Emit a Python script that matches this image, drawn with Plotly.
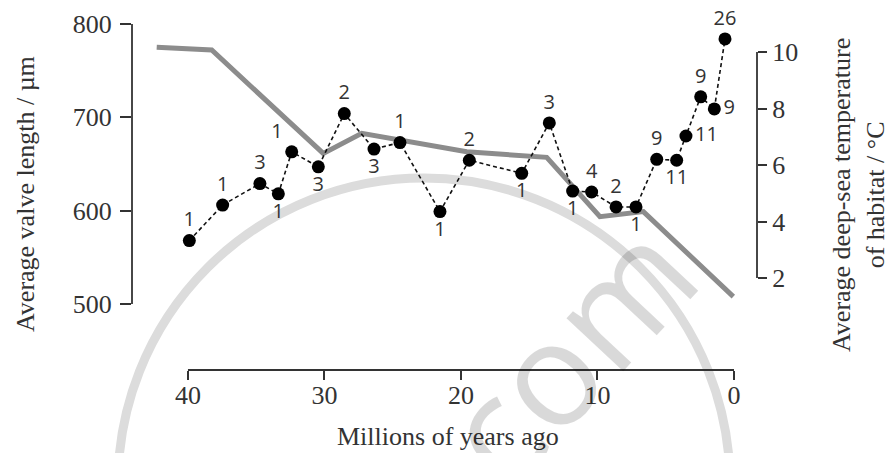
import plotly.graph_objects as go

# ---- data ----
ages = [39.9, 37.46, 34.73, 33.38, 32.4, 30.45, 28.55, 26.37, 24.47, 21.54, 19.39,
        15.55, 13.53, 11.82, 10.43, 8.64, 7.18, 5.66, 4.2, 3.52, 2.44, 1.44, 0.66]
valve_length = [568, 606, 629, 618, 663, 647, 704, 666, 673, 599, 654,
                 640, 694, 621, 620, 604, 604, 655, 654, 680, 722, 709, 784]
n_samples = ["1", "1", "3", "1", "1", "3", "2", "3", "1", "1", "2",
             "1", "3", "1", "4", "2", "1", "9", "11", "11", "9", "9", "26"]
label_pos = ["top center", "top center", "top center", "bottom center", "top left",
             "bottom center", "top center", "bottom center", "top center", "bottom center",
             "top center", "bottom center", "top center", "bottom center", "top center",
             "top center", "bottom center", "top center", "bottom center", "middle right",
             "top center", "middle right", "top center"]

temp_ages = [42.29, 38.26, 30.09, 27.27, 19.58, 13.72, 9.82, 6.64, 0.05]
temp_values = [10.17, 10.07, 6.41, 7.12, 6.47, 6.27, 4.17, 4.35, 1.34]

x_ticks = [40, 30, 20, 10, 0]
y_ticks = [500, 600, 700, 800]
y2_ticks = [2, 4, 6, 8, 10]

SERIF = "Liberation Serif, Times New Roman, serif"
SANS = "Open Sans, Noto Sans, sans-serif"
AXIS_COL = "#333333"

# the page body has an 8px default margin, so the figure is 8px smaller
PW, PH = 885, 445
L, R, T, B = 124, 136, 2, 83
W_PLOT = PW - L - R   # 625
H_PLOT = PH - T - B   # 360


def px_x(px):   # page pixel -> paper x
    return (px - 8 - L) / W_PLOT


def px_y(py):   # page pixel -> paper y
    return (PH - B - (py - 8)) / H_PLOT


fig = go.Figure()

# temperature (grey) on the base subplot y2
fig.add_trace(go.Scatter(
    x=temp_ages, y=temp_values, yaxis="y2", mode="lines",
    line=dict(color="#8c8c8c", width=5), showlegend=False, hoverinfo="skip"))

# valve length (black dots + dashed line) on overlaying y
fig.add_trace(go.Scatter(
    x=ages, y=valve_length, yaxis="y", mode="lines+markers+text",
    line=dict(color="#111111", width=1.6, dash="4px,3px"),
    marker=dict(color="#000000", size=13),
    text=n_samples, textposition=label_pos,
    textfont=dict(family=SANS, size=20, color="#333333"),
    cliponaxis=False, showlegend=False, hoverinfo="skip"))

fig.update_layout(
    width=PW, height=PH,
    margin=dict(l=L, r=R, t=T, b=B),
    paper_bgcolor="white", plot_bgcolor="rgba(0,0,0,0)",
    xaxis=dict(range=[44.10, -1.685], tickvals=x_ticks, ticks="outside",
               ticklen=9, tickwidth=1.6, tickcolor=AXIS_COL, showline=False,
               showgrid=False, zeroline=False, ticklabelstandoff=-7,
               tickfont=dict(family=SERIF, size=26, color=AXIS_COL)),
    yaxis=dict(range=[429.3, 815.0], tickvals=y_ticks, ticks="outside",
               ticklen=11, tickwidth=1.6, tickcolor=AXIS_COL, showline=False,
               showgrid=False, zeroline=False, overlaying="y2", side="left",
               ticklabelstandoff=3,
               tickfont=dict(family=SERIF, size=26, color=AXIS_COL)),
    yaxis2=dict(range=[-1.257, 11.487], tickvals=y2_ticks, ticks="outside",
                ticklen=9, tickwidth=1.6, tickcolor=AXIS_COL, showline=False,
                showgrid=False, zeroline=False, side="right",
                tickfont=dict(family=SERIF, size=26, color=AXIS_COL)),
)

# range-frame axis lines (span only the ticked range)
fig.add_shape(type="line", xref="x", yref="paper", x0=x_ticks[0], x1=x_ticks[-1],
              y0=0, y1=0, line=dict(color=AXIS_COL, width=1.8))
fig.add_shape(type="line", xref="paper", yref="y", x0=0, x1=0,
              y0=y_ticks[0], y1=y_ticks[-1], line=dict(color=AXIS_COL, width=1.8))
fig.add_shape(type="line", xref="paper", yref="y2", x0=1, x1=1,
              y0=y2_ticks[0], y1=y2_ticks[-1], line=dict(color=AXIS_COL, width=1.8))

# watermark arc (centre ~ (422, 478) page px, radius ~306)
fig.add_shape(type="circle", xref="paper", yref="paper",
              x0=px_x(424 - 306), x1=px_x(424 + 306),
              y0=px_y(484 + 306), y1=px_y(484 - 306),
              line=dict(color="#dcdcdc", width=9), layer="below")

# axis titles
fig.add_annotation(text="Average valve length / µm", xref="paper", yref="paper",
                   x=px_x(25), y=px_y(194), textangle=-90,
                   showarrow=False, xanchor="center", yanchor="middle",
                   font=dict(family=SERIF, size=26, color=AXIS_COL))
fig.add_annotation(text="Average deep-sea temperature<br>of habitat / °C",
                   xref="paper", yref="paper",
                   x=px_x(859), y=px_y(195), textangle=-90,
                   showarrow=False, xanchor="center", yanchor="middle",
                   font=dict(family=SERIF, size=26, color=AXIS_COL))
fig.add_annotation(text="Millions of years ago", xref="paper", yref="paper",
                   x=px_x(448), y=px_y(436),
                   showarrow=False, xanchor="center", yanchor="middle",
                   font=dict(family=SERIF, size=26, color=AXIS_COL))

# watermark text
fig.add_annotation(text="com", xref="paper", yref="paper",
                   x=px_x(565), y=px_y(350), textangle=-47,
                   showarrow=False, xanchor="center", yanchor="middle",
                   font=dict(family="Open Sans, sans-serif", size=145,
                             color="rgba(0,0,0,0.15)"))

fig.write_html("out.html")
